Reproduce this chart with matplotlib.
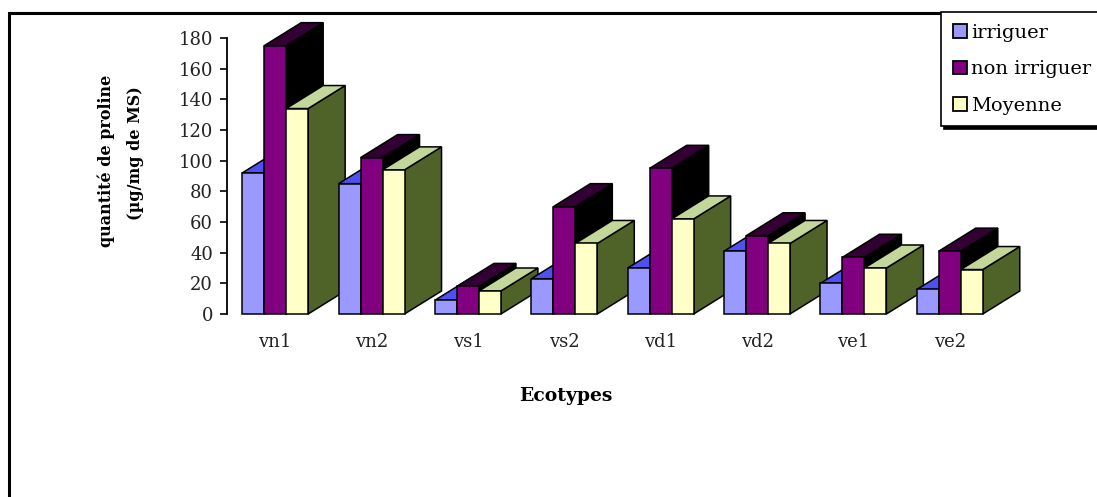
import matplotlib.pyplot as plt
from matplotlib.patches import Polygon, Patch, Rectangle

# proline content per ecotype (µg/mg de MS)
ecotypes = ['vn1', 'vn2', 'vs1', 'vs2', 'vd1', 'vd2', 've1', 've2']
irriguer = [92, 85, 9, 23, 30, 41, 20, 16]
non_irriguer = [175, 102, 18, 70, 95, 51, 37, 41]
moyenne = [134, 94, 15, 46, 62, 46, 30, 29]
yticks = [0, 20, 40, 60, 80, 100, 120, 140, 160, 180]

series_names = ['irriguer', 'non irriguer', 'Moyenne']
# front, top, side colours of each series
face_colors = [
    ('#9999FF', '#5050F0', '#3333AA'),
    ('#800080', '#330033', '#000000'),
    ('#FFFFC8', '#C4D79B', '#4F6228'),
]

serif = 'DejaVu Serif'
W, H = 1097, 497
fig = plt.figure(figsize=(W / 100, H / 100), dpi=100)
ax = fig.add_axes([227 / W, (H - 314) / H, 771 / W, 276 / H])
ax.set_xlim(-0.5, 7.5)
ax.set_ylim(0, 180)

bar_w = 0.228
depth_x = 0.384
depth_y = 15


def draw_bar(x0, h, colors):
    front, top, side = colors
    x1 = x0 + bar_w
    kw = dict(edgecolor='black', linewidth=1.1, joinstyle='miter', clip_on=False)
    ax.add_patch(Polygon([(x1, 0), (x1 + depth_x, depth_y), (x1 + depth_x, h + depth_y), (x1, h)],
                         facecolor=side, **kw))
    ax.add_patch(Polygon([(x0, h), (x1, h), (x1 + depth_x, h + depth_y), (x0 + depth_x, h + depth_y)],
                         facecolor=top, **kw))
    ax.add_patch(Polygon([(x0, 0), (x1, 0), (x1, h), (x0, h)], facecolor=front, **kw))


for k in range(len(ecotypes)):
    for i, values in enumerate([irriguer, non_irriguer, moyenne]):
        draw_bar(k - 1.5 * bar_w + i * bar_w, values[k], face_colors[i])

for side in ['top', 'right', 'bottom']:
    ax.spines[side].set_visible(False)
ax.spines['left'].set_linewidth(1.3)
ax.set_yticks(yticks)
ax.set_yticklabels([str(v) for v in yticks], fontfamily=serif, fontsize=13, color='#222222')
ax.tick_params(axis='y', length=5, width=1.2, pad=5)
ax.set_xticks(range(len(ecotypes)))
ax.set_xticklabels(ecotypes, fontfamily=serif, fontsize=13, color='#222222')
ax.tick_params(axis='x', length=0, pad=14)
ax.patch.set_visible(False)

fig.text(566 / W, 1 - 396 / H, 'Ecotypes', ha='center', va='center',
         fontfamily=serif, fontsize=13.5, fontweight='bold')
fig.text(106 / W, 1 - 161 / H, 'quantité de proline', rotation=90, ha='center', va='center',
         fontfamily=serif, fontsize=11.5, fontweight='bold')
fig.text(135 / W, 1 - 153 / H, '(µg/mg de MS)', rotation=90, ha='center', va='center',
         fontfamily=serif, fontsize=11.5, fontweight='bold')

# chart area border
fig.add_artist(Rectangle((9 / W, -0.2), 1.2, 1.2 - 13 / H, transform=fig.transFigure,
                         fill=False, edgecolor='black', linewidth=2.2))

handles = [Patch(facecolor=c[0], edgecolor='black', linewidth=1.3) for c in face_colors]
leg = fig.legend(handles, series_names, loc='upper left', bbox_to_anchor=(941 / W, 1 - 12 / H),
                 prop={'family': serif, 'size': 14}, frameon=True, fancybox=False,
                 shadow={'color': 'black', 'alpha': 1}, handlelength=0.75, handleheight=0.7,
                 handletextpad=0.2, labelspacing=0.95, borderpad=0.6, borderaxespad=0)
leg.get_frame().set_edgecolor('black')
leg.get_frame().set_linewidth(1.2)

fig.savefig('out.png', dpi=100)
